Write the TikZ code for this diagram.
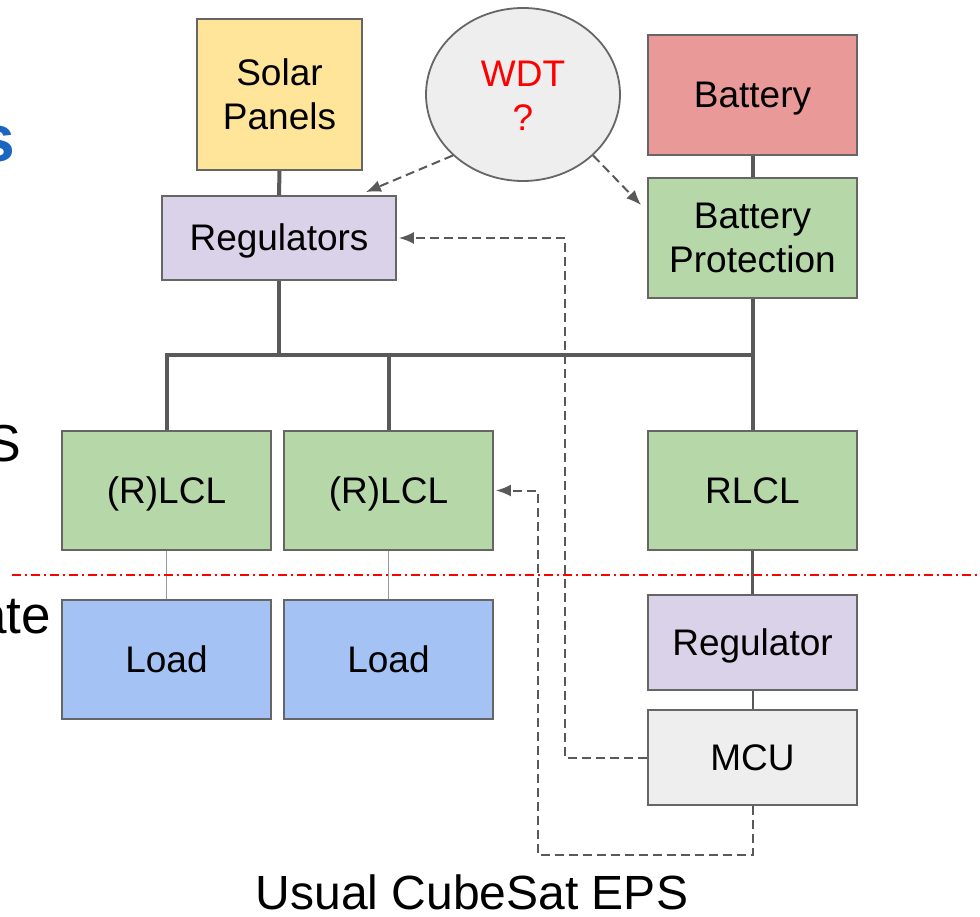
\documentclass[tikz,border=0pt]{standalone}
\usepackage{fontspec}
\setmainfont{Liberation Sans}
\usetikzlibrary{shapes.geometric,arrows.meta}
\definecolor{boxline}{HTML}{666666}
\definecolor{busline}{HTML}{595959}
\definecolor{cyellow}{HTML}{FFE599}
\definecolor{cred}{HTML}{EA9999}
\definecolor{cgreen}{HTML}{B6D7A8}
\definecolor{cpurple}{HTML}{D9D2E9}
\definecolor{cblue}{HTML}{A4C2F4}
\definecolor{cgray}{HTML}{EEEEEE}
\definecolor{titleblue}{HTML}{1A66C0}
\tikzset{
  box/.style={draw=boxline, line width=1.8pt, inner sep=0pt, align=center,
    font=\fontsize{37}{44}\selectfont},
  oneline/.style={text height=33.5pt, text depth=7.8pt},
  bus/.style={draw=busline, line width=4pt},
  thinline/.style={draw=gray!80, line width=1.5pt},
  sig/.style={draw=busline, line width=2pt, dash pattern=on 9pt off 5pt,
    -{Latex[length=15pt,width=12pt]}},
}
\begin{document}
\begin{tikzpicture}[x=1pt,y=-1pt]
\useasboundingbox (0,0) rectangle (980,917);
\clip (0,0) rectangle (980,917);
% partially visible slide text on the left
\node[anchor=base east, inner sep=0pt, text=titleblue, font=\fontsize{66}{70}\selectfont\bfseries] (ts) at (15,162) {s};
\node[anchor=base east, inner sep=0pt, font=\fontsize{52}{56}\selectfont] (tS) at (21,461) {S};
\node[anchor=base east, inner sep=0pt, font=\fontsize{53}{56}\selectfont] (tate) at (51,633) {ate};
% boxes
\node[box, fill=cyellow, minimum width=165pt, minimum height=151pt] (solar) at (279.5,94.5) {Solar\\Panels};
\node[box, ellipse, fill=cgray, minimum width=194pt, minimum height=173pt] (wdt) at (523,94.5) {};
\node[font=\fontsize{37}{44}\selectfont, text=red, align=center, inner sep=0pt] (wdttext) at (523,96) {WDT\\?};
\node[box, oneline, fill=cred, minimum width=209pt, minimum height=120pt] (battery) at (752.5,95) {Battery};
\node[box, fill=cgreen, minimum width=209pt, minimum height=120pt] (bprot) at (752.5,238) {Battery\\Protection};
\node[box, oneline, fill=cpurple, minimum width=234pt, minimum height=84pt] (regs) at (279,238) {Regulators};
\node[box, oneline, fill=cgreen, minimum width=209pt, minimum height=119pt] (lcl1) at (166.5,490.5) {(R)LCL};
\node[box, oneline, fill=cgreen, minimum width=209pt, minimum height=119pt] (lcl2) at (388.5,490.5) {(R)LCL};
\node[box, oneline, fill=cgreen, minimum width=209pt, minimum height=119pt] (rlcl) at (752.5,490.5) {RLCL};
\node[box, oneline, fill=cblue, minimum width=209pt, minimum height=119pt] (load1) at (166.5,659.5) {Load};
\node[box, oneline, fill=cblue, minimum width=209pt, minimum height=119pt] (load2) at (388.5,659.5) {Load};
\node[box, oneline, fill=cpurple, minimum width=209pt, minimum height=95pt] (reg) at (752.5,642.5) {Regulator};
\node[box, oneline, fill=cgray, minimum width=209pt, minimum height=95pt] (mcu) at (752.5,757.5) {MCU};
% power bus
\coordinate (busy) at (0,355);
\draw[bus] (solar.south) -- (regs.north);
\draw[bus] (regs.south) -- (regs.south |- busy);
\draw[bus] (lcl1.north) -- (lcl1.north |- busy) -- (rlcl.north |- busy);
\draw[bus] (lcl2.north) -- (lcl2.north |- busy);
\draw[bus] (bprot.south) -- (rlcl.north);
\draw[bus] (battery.south) -- (bprot.north);
\draw[draw=busline, line width=3pt] (rlcl.south) -- (reg.north);
\draw[draw=busline, line width=2pt] (reg.south) -- (mcu.north);
\draw[thinline] (lcl1.south) -- (load1.north);
\draw[thinline] (lcl2.south) -- (load2.north);
% red separation line
\coordinate (sepL) at (12,575);
\coordinate (sepR) at (980,575);
\draw[red, line width=1.5pt, dash pattern=on 9pt off 4pt on 2pt off 4pt] (sepL) -- (sepR);
% WDT signals
\draw[sig] (wdt.221) -- ([xshift=-31pt,yshift=3pt]regs.north east);
\draw[sig] (wdt.319) -- ([xshift=-6pt,yshift=-28pt]bprot.north west);
% MCU control signals
\coordinate (m1) at (565,757.5);
\draw[sig] (mcu.west) -- (m1) |- ([xshift=2pt]regs.east);
\coordinate (m2) at (538,855);
\draw[sig] (mcu.south) |- (m2) |- ([xshift=2pt]lcl2.east);
% caption
\node[font=\fontsize{48}{52}\selectfont] (caption) at (472,892) {Usual CubeSat EPS};
\end{tikzpicture}
\end{document}
